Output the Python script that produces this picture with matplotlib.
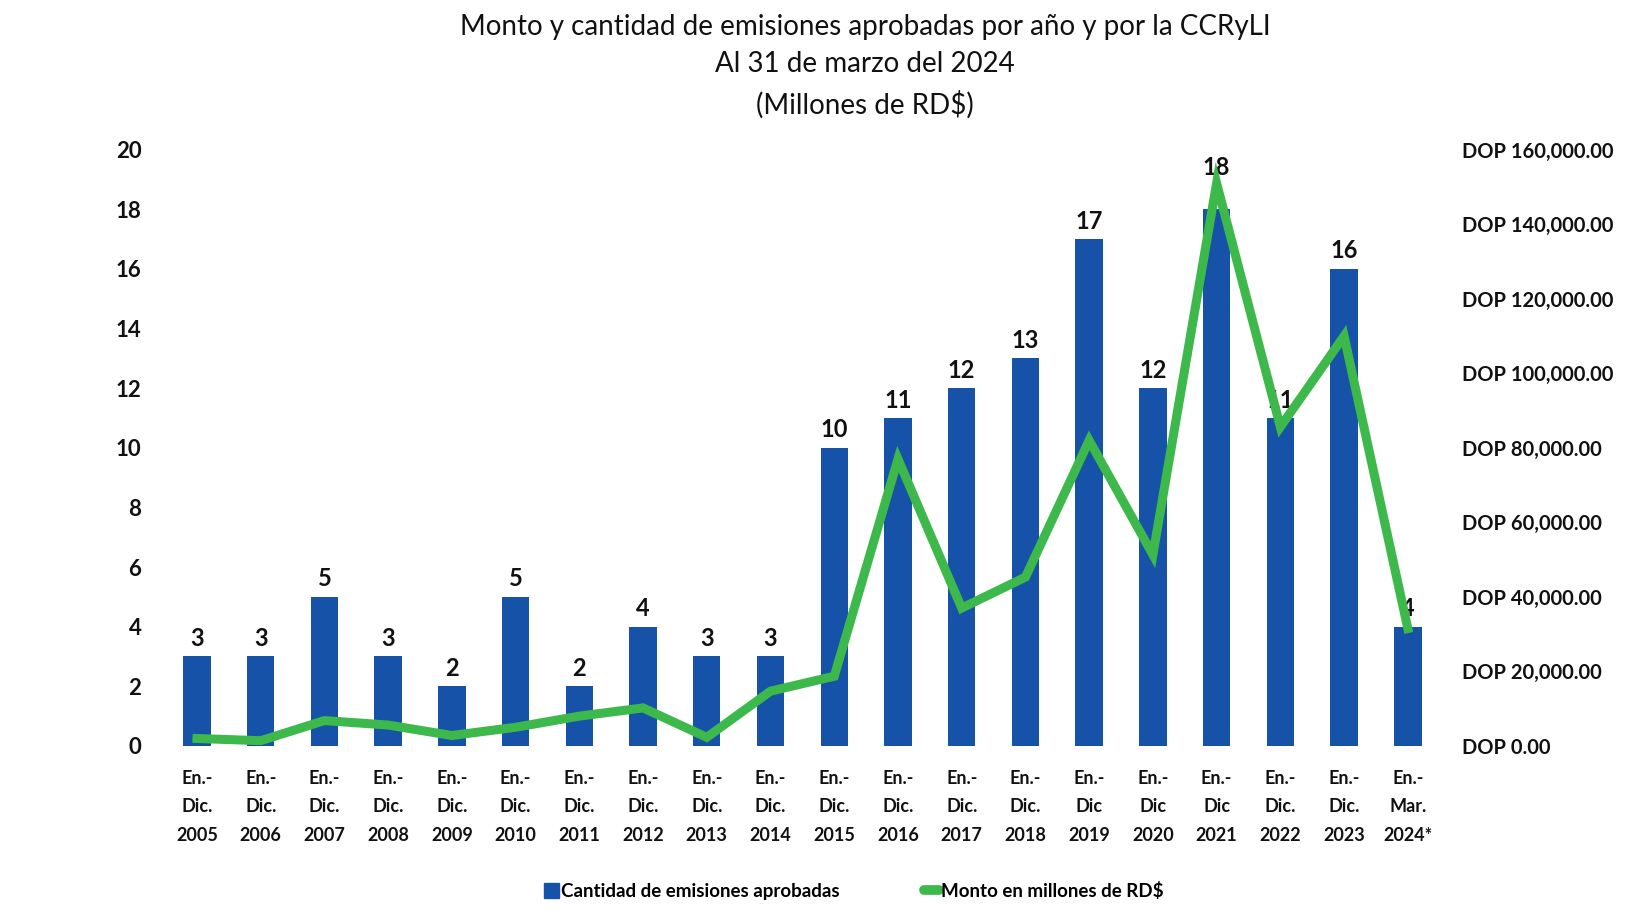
import matplotlib.pyplot as plt
from matplotlib.ticker import FuncFormatter, MultipleLocator
from matplotlib.lines import Line2D
from matplotlib.patches import Patch

plt.rcParams['font.family'] = ['Lato', 'DejaVu Sans']

# data
periods = ["En.-\nDic.\n2005", "En.-\nDic.\n2006", "En.-\nDic.\n2007", "En.-\nDic.\n2008",
           "En.-\nDic.\n2009", "En.-\nDic.\n2010", "En.-\nDic.\n2011", "En.-\nDic.\n2012",
           "En.-\nDic.\n2013", "En.-\nDic.\n2014", "En.-\nDic.\n2015", "En.-\nDic.\n2016",
           "En.-\nDic.\n2017", "En.-\nDic.\n2018", "En.-\nDic\n2019", "En.-\nDic\n2020",
           "En.-\nDic\n2021", "En.-\nDic.\n2022", "En.-\nDic.\n2023", "En.-\nMar.\n2024*"]
cantidad = [3, 3, 5, 3, 2, 5, 2, 4, 3, 3, 10, 11, 12, 13, 17, 12, 18, 11, 16, 4]
monto = [2000, 1400, 6800, 5600, 2800, 5000, 8000, 10200, 2300, 14700,
         18700, 77000, 37000, 45300, 82000, 51300, 151000, 85600, 110000, 31500]

blue = "#1552A8"
green = "#3DB84A"
ink = "#111111"

fig = plt.figure(figsize=(16.51, 9.13), dpi=100)
ax = fig.add_axes([0.100, 0.183, 0.772, 0.653])
ax2 = ax.twinx()

x = list(range(len(periods)))
ax.bar(x, cantidad, width=0.43, color=blue, zorder=2)
ax2.plot(x, monto, color=green, lw=6.5, solid_joinstyle='miter', zorder=3)

# labels above the bars (the tallest one is pushed up, clear of the line)
for i, v in enumerate(cantidad):
    off = 18
    if v == max(cantidad):
        off = 42
    ax.annotate(str(v), (i, v), xytext=(0, off), textcoords='offset pixels',
                ha='center', va='center', fontsize=17, fontweight='bold', color=ink)

ax.set_xlim(-0.5, len(periods) - 0.5)
ax.set_ylim(0, 20)
ax2.set_ylim(0, 160000)
ax.yaxis.set_major_locator(MultipleLocator(2))
ax2.yaxis.set_major_locator(MultipleLocator(20000))
ax2.yaxis.set_major_formatter(FuncFormatter(lambda v, p: f"DOP {v:,.2f}"))

ax.set_xticks(x)
ax.set_xticklabels(periods, fontsize=13, fontweight='bold', linespacing=1.85, color=ink)
for a in (ax, ax2):
    for s in a.spines.values():
        s.set_visible(False)
    a.tick_params(length=0)
ax.tick_params(axis='x', pad=17)
ax.tick_params(axis='y', pad=17, labelsize=16)
ax2.tick_params(axis='y', pad=16, labelsize=14.5)
for t in ax.get_yticklabels() + ax2.get_yticklabels():
    t.set_fontweight('bold')
    t.set_color(ink)

fig.text(0.524, 0.985, "Monto y cantidad de emisiones aprobadas por año y por la CCRyLI\n"
         "Al 31 de marzo del 2024\n(Millones de RD$)", ha='center', va='top',
         fontsize=20, fontweight='normal', linespacing=1.55, color=ink)

handles = [Patch(color=blue), Line2D([0], [0], color=green, lw=7, solid_capstyle='round')]
fig.legend(handles, ["Cantidad de emisiones aprobadas", "Monto en millones de RD$"],
           loc='center', bbox_to_anchor=(0.517, 0.024), ncol=2, frameon=False,
           handlelength=0.8, handleheight=0.8, handletextpad=0.1,
           columnspacing=4.5, prop={'weight': 'bold', 'size': 13.5})

fig.savefig("out.png", dpi=100)
